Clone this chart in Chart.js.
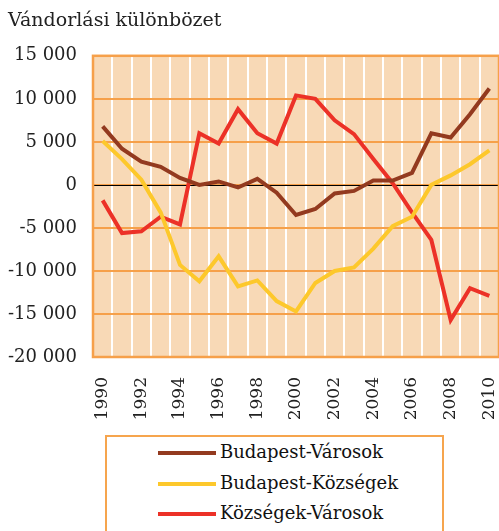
<!DOCTYPE html>
<html>
<head>
<meta charset="utf-8">
<script src="https://cdn.jsdelivr.net/npm/chart.js@4.4.0/dist/chart.umd.min.js"></script>
<style>
  body { margin: 0; background: #fff; overflow: hidden; }
  #wrap { position: absolute; left: 0; top: 0; width: 499px; height: 430px; }
  #legend {
    position: absolute; left: 105px; top: 435px; width: 339px; height: 120px;
    border: 2px solid #F6A54E; box-sizing: border-box;
    font-family: "DejaVu Serif", serif; font-size: 18px; color: #111;
  }
  .item { position: absolute; left: 51px; height: 24px; line-height: 24px; white-space: nowrap; }
  .swatch { display: inline-block; width: 58px; height: 4px; vertical-align: middle; margin-right: 4px; }
</style>
</head>
<body>
<div id="wrap"><canvas id="myChart"></canvas></div>
<div id="legend"></div>
<script>
// Years on the x axis
const years = ['1990', '1991', '1992', '1993', '1994', '1995', '1996', '1997', '1998', '1999', '2000',
               '2001', '2002', '2003', '2004', '2005', '2006', '2007', '2008', '2009', '2010'];

// Series values
const budapestVarosok = [6800, 4200, 2700, 2100, 800, 0, 400, -300, 700, -900, -3500,
                         -2800, -1000, -700, 500, 500, 1400, 6000, 5500, 8200, 11200];
const budapestKozsegek = [5100, 3000, 600, -3200, -9300, -11200, -8300, -11800, -11100, -13500, -14700,
                          -11400, -10000, -9600, -7400, -4800, -3700, 0, 1100, 2400, 4000];
const kozsegekVarosok = [-1800, -5600, -5400, -3700, -4600, 6000, 4800, 8800, 6000, 4800, 10400,
                         10000, 7500, 5900, 3000, 200, -3200, -6400, -15700, -12000, -12900];

const seriesNames = ['Budapest-Városok', 'Budapest-Községek', 'Községek-Városok'];
const seriesColors = ['#933A1F', '#FDC82B', '#EC3127'];

// y axis range
const yMin = -20000;
const yMax = 15000;
const yStep = 5000;

function formatNumber(v) {
    const s = String(Math.abs(v)).replace(/\B(?=(\d{3})+(?!\d))/g, ' ');
    return (v < 0 ? '-' : '') + s;
}

const serif = "'DejaVu Serif', serif";

// Paint the plot background, the zero line and the orange frame
const plotFrame = {
    id: 'plotFrame',
    beforeDraw(chart) {
        const a = chart.chartArea;
        const c = chart.ctx;
        c.save();
        c.fillStyle = '#F8D9B6';
        c.fillRect(a.left, a.top, a.right - a.left, a.bottom - a.top);
        c.restore();
    },
    beforeDatasetsDraw(chart) {
        const a = chart.chartArea;
        const c = chart.ctx;
        const y0 = chart.scales.y.getPixelForValue(0);
        c.save();
        c.strokeStyle = '#000';
        c.lineWidth = 1;
        c.beginPath();
        c.moveTo(a.left, Math.round(y0) + 0.5);
        c.lineTo(a.right, Math.round(y0) + 0.5);
        c.stroke();
        c.strokeStyle = '#F6A04A';
        c.lineWidth = 2.5;
        c.strokeRect(a.left, a.top, a.right - a.left, a.bottom - a.top);
        c.restore();
    }
};

const ctx = document.getElementById('myChart').getContext('2d');

const myChart = new Chart(ctx, {
    type: 'line',
    data: {
        labels: years,
        datasets: [
            { label: seriesNames[0], data: budapestVarosok },
            { label: seriesNames[1], data: budapestKozsegek },
            { label: seriesNames[2], data: kozsegekVarosok }
        ].map((d, i) => Object.assign(d, {
            borderColor: seriesColors[i],
            backgroundColor: seriesColors[i],
            borderWidth: 4,
            pointRadius: 0,
            tension: 0,
            borderJoinStyle: 'miter'
        }))
    },
    options: {
        responsive: true,
        maintainAspectRatio: false,
        animation: false,
        layout: { padding: { left: 8, right: 0, top: 10, bottom: 0 } },
        plugins: {
            legend: { display: false },
            tooltip: { enabled: false },
            title: {
                display: true,
                text: 'Vándorlási különbözet',
                align: 'start',
                color: '#222',
                font: { family: serif, size: 19, weight: 'normal' },
                padding: { top: 0, bottom: 23 }
            }
        },
        scales: {
            x: {
                offset: true,
                afterFit(scale) {
                    scale.height = 73;
                    scale.paddingLeft = 0;
                    scale.paddingRight = 0;
                },
                grid: {
                    offset: true,
                    color: '#FFFFFF',
                    lineWidth: 2,
                    drawTicks: false
                },
                border: { display: false },
                ticks: {
                    autoSkip: false,
                    maxRotation: 90,
                    minRotation: 90,
                    padding: 20,
                    color: '#222',
                    font: { family: serif, size: 17 },
                    callback: function (value, index) {
                        return index % 2 === 0 ? this.getLabelForValue(value) : '';
                    }
                }
            },
            y: {
                min: yMin,
                max: yMax,
                afterFit(scale) { scale.width = 85; },
                grid: {
                    color: '#F6A04A',
                    lineWidth: 2,
                    drawTicks: false
                },
                border: { display: false },
                ticks: {
                    stepSize: yStep,
                    padding: 16,
                    color: '#222',
                    font: { family: serif, size: 18 },
                    callback: (v) => formatNumber(v)
                }
            }
        }
    },
    plugins: [plotFrame]
});

// Legend box built from the same series names and colours
const legend = document.getElementById('legend');
seriesNames.forEach((name, i) => {
    const item = document.createElement('div');
    item.className = 'item';
    item.style.top = (3 + i * 30.5) + 'px';
    const sw = document.createElement('span');
    sw.className = 'swatch';
    sw.style.background = seriesColors[i];
    item.appendChild(sw);
    item.appendChild(document.createTextNode(name));
    legend.appendChild(item);
});
</script>
</body>
</html>
